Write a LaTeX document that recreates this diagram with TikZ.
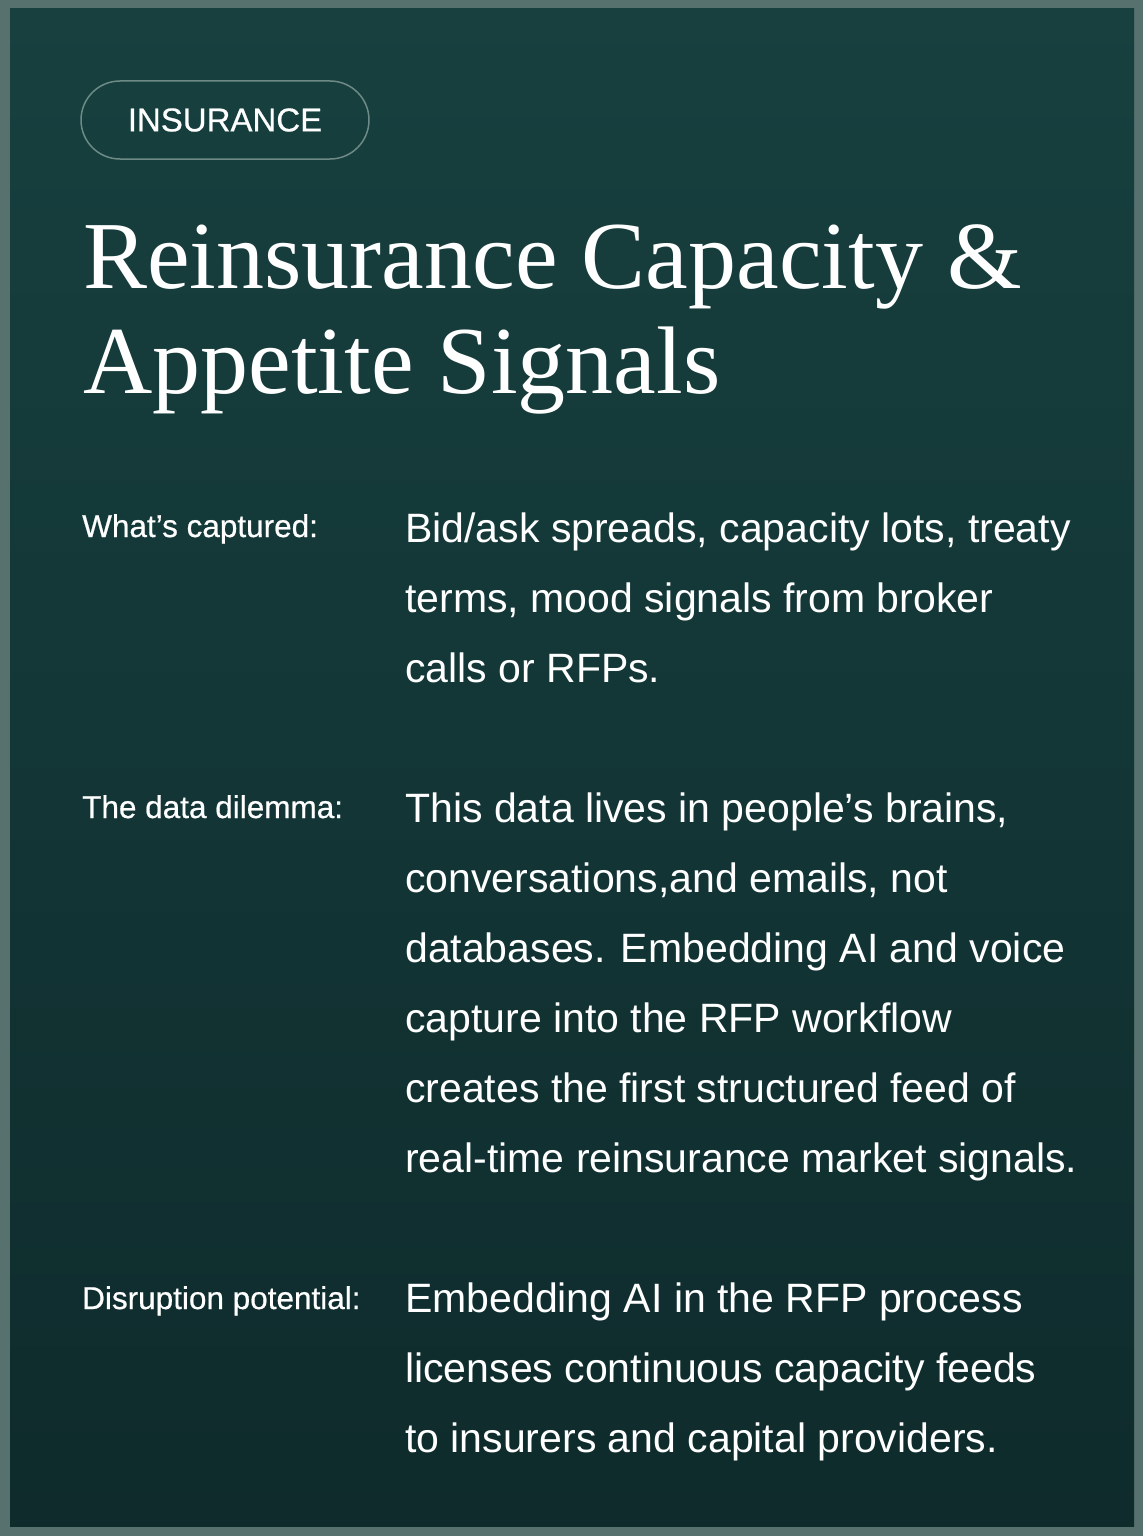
\documentclass[tikz,border=0pt]{standalone}
\usepackage{fontspec}
\usepackage{tikz}
\usetikzlibrary{positioning}
\setmainfont{Liberation Sans}
\newfontfamily\titlefont{Liberation Serif}
\newfontfamily\labelfont{Liberation Sans}[FakeBold=0.6]
\definecolor{frame}{HTML}{56716E}
\definecolor{bgtop}{HTML}{17403F}
\definecolor{bgbottom}{HTML}{0F2B2C}
\definecolor{pillline}{HTML}{6E8A86}

\tikzset{
    tagbox/.style={draw=pillline, line width=1.5pt, rounded corners=39pt, minimum width=288pt, minimum height=78pt, inner sep=0pt, text=white, font=\labelfont\fontsize{33}{33}\selectfont},
    heading/.style={anchor=base west, inner sep=0pt, text=white, align=left, font=\titlefont\fontsize{96}{105}\selectfont},
    fieldname/.style={anchor=base west, inner sep=0pt, text=white, font=\labelfont\fontsize{31.5}{31.5}\selectfont},
    fieldtext/.style={anchor=base west, inner sep=0pt, text=white, align=left, font=\fontsize{41}{70}\selectfont}
}

\begin{document}
\begin{tikzpicture}[x=1pt, y=-1pt]
    % frame and background
    \fill[frame] (0,0) rectangle (1143,1536);
    \shade[top color=bgtop, bottom color=bgbottom] (10,9) rectangle (1134,1526);
    \useasboundingbox (0,0) rectangle (1143,1536);

    \node[tagbox] (tag) at (225,120) {INSURANCE};
    % multi-line nodes: base is the last line
    \node[heading] (title) at (83,393) {Reinsurance Capacity \&\\Appetite Signals};

    \node[fieldname] (captured) at (82,537) {What’s captured:};
    \node[fieldtext] (captured_text) at (405,682) {Bid/ask spreads, capacity lots, treaty\\terms, mood signals from broker\\calls or RFPs.};

    \node[fieldname] (dilemma) at (82,818) {The data dilemma:};
    \node[fieldtext] (dilemma_text) at (405,1172) {This data lives in people’s brains,\\conversations,and emails, not\\databases. Embedding AI and voice\\capture into the RFP workflow\\creates the first structured feed of\\real-time reinsurance market signals.};

    \node[fieldname] (potential) at (82,1309) {Disruption potential:};
    \node[fieldtext] (potential_text) at (405,1452) {Embedding AI in the RFP process\\licenses continuous capacity feeds\\to insurers and capital providers.};
\end{tikzpicture}
\end{document}
